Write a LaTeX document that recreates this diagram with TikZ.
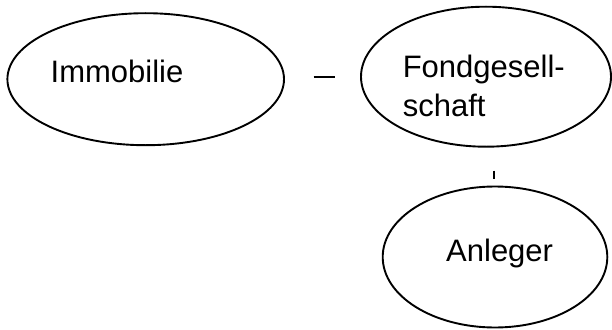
\documentclass[tikz,border=0pt]{standalone}
\usepackage{fontspec}
\setmainfont{Liberation Sans}
\usetikzlibrary{shapes.geometric}
\begin{document}
\begin{tikzpicture}[x=1pt,y=-1pt,
  oval/.style={draw=black,line width=1.9pt,shape=ellipse,inner sep=0pt},
  lbl/.style={inner sep=0pt,anchor=base west,align=left,font=\fontsize{31}{38.7}\selectfont},
  stub/.style={draw=black,line width=2.2pt}]
\useasboundingbox (0,0) rectangle (612,329);
\node[oval,minimum width=276.6pt,minimum height=132pt] (imm) at (145.7,79.2) {};
\node[oval,minimum width=250pt,minimum height=140pt] (fond) at (486,76.7) {};
\node[oval,minimum width=224.6pt,minimum height=141pt] (anl) at (495,257) {};
\node[lbl] (timm) at (50.5,82.7) {Immobilie};
\node[lbl] (tfond) at (402.6,116) {Fondgesell-\\schaft};
\node[lbl] (tanl) at (446,261.7) {Anleger};
\coordinate (d1) at (313.7,76.7);
\coordinate (d2) at (335,76.7);
\coordinate (t1) at (494,170.7);
\coordinate (t2) at (494,179.3);
\draw[stub] (d1) -- (d2);
\draw[stub,line width=1.8pt] (t1) -- (t2);
\end{tikzpicture}
\end{document}
